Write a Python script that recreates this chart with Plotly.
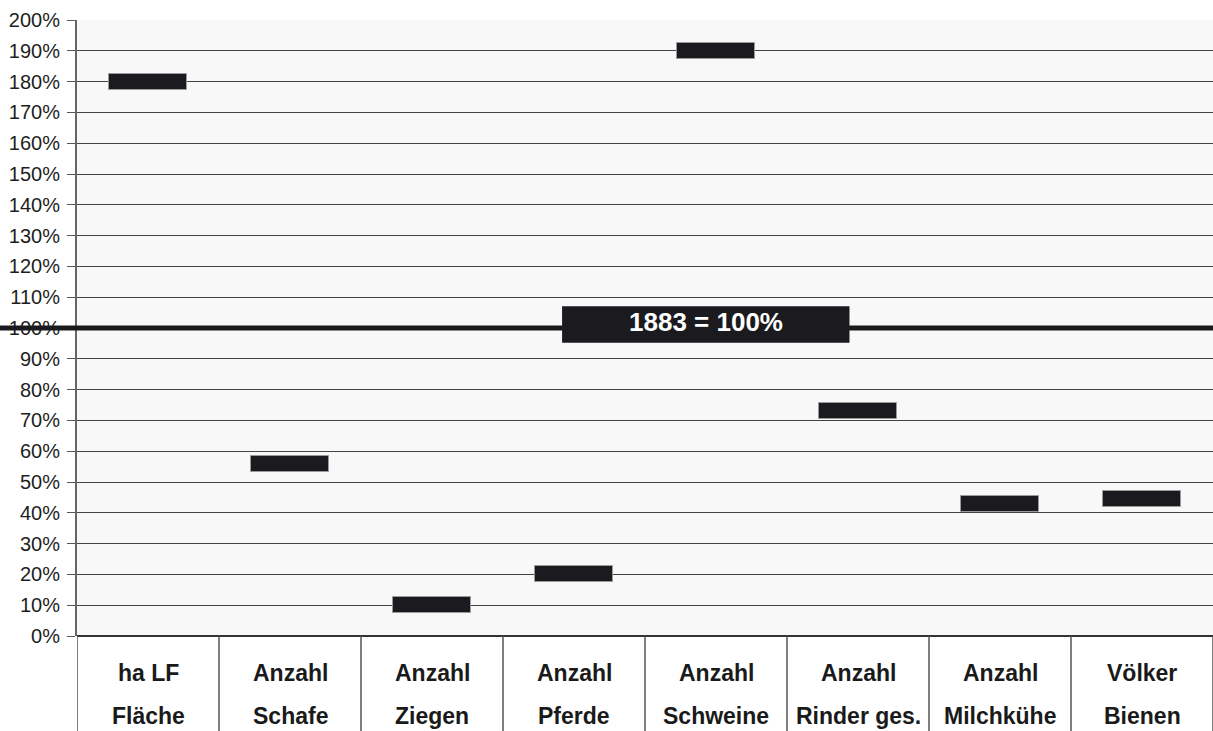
import plotly.graph_objects as go

# Index values relative to 1883 (= 100 %)
line1 = ["ha LF", "Anzahl", "Anzahl", "Anzahl", "Anzahl", "Anzahl", "Anzahl", "Völker"]
line2 = ["Fläche", "Schafe", "Ziegen", "Pferde", "Schweine", "Rinder ges.", "Milchkühe", "Bienen"]
values = [180, 56, 10, 20, 190, 73, 43, 44.5]
y_ticks = list(range(0, 201, 10))
base_year_label = "1883 = 100%"
base_value = 100

FONT = "Arial, Liberation Sans, sans-serif"
DARK = "#1b1a1f"
marker_h = 5.2  # visible thickness of each marker, in percentage points

xpos = list(range(len(values)))

fig = go.Figure()
fig.add_trace(go.Bar(
    x=xpos,
    y=[marker_h] * len(values),
    base=[v - marker_h / 2 for v in values],
    width=0.556,
    marker=dict(color=DARK, line=dict(color="#9a9a9a", width=1)),
    hoverinfo="skip",
    showlegend=False,
))

shapes = []
# thick reference line at 100 %
shapes.append(dict(type="line", xref="paper", yref="y",
                   x0=-0.07, x1=1, y0=base_value, y1=base_value,
                   line=dict(color=DARK, width=5), layer="above"))
# box carrying the base-year label
shapes.append(dict(type="rect", xref="paper", yref="y",
                   x0=0.427, x1=0.680, y0=95.2, y1=107.1,
                   fillcolor=DARK, line=dict(width=0), layer="above"))
# category separators below the axis
for k in range(len(values) + 1):
    shapes.append(dict(type="line", xref="x", yref="paper",
                       x0=k - 0.5, x1=k - 0.5, y0=0, y1=-0.2,
                       line=dict(color="#555555", width=1.5)))

annotations = [dict(text=f"<b>{base_year_label}</b>", xref="paper", yref="y",
                    x=0.5537, y=102.0, showarrow=False,
                    font=dict(family=FONT, size=26, color="white"))]
for k in xpos:
    annotations.append(dict(text=f"<b>{line1[k]}</b>", xref="x", yref="paper",
                            x=k, y=-0.0595, yanchor="middle", showarrow=False,
                            font=dict(family=FONT, size=23, color="#1a1a1a")))
    annotations.append(dict(text=f"<b>{line2[k]}</b>", xref="x", yref="paper",
                            x=k, y=-0.1295, yanchor="middle", showarrow=False,
                            font=dict(family=FONT, size=23, color="#1a1a1a")))

fig.update_layout(
    width=1213, height=731,
    margin=dict(l=77, r=0, t=20, b=95),
    paper_bgcolor="white",
    plot_bgcolor="#f8f8f8",
    shapes=shapes,
    annotations=annotations,
    bargap=0,
    xaxis=dict(range=[-0.5, len(values) - 0.5], showticklabels=False,
               showgrid=False, zeroline=False, showline=False, ticks=""),
    yaxis=dict(range=[0, 200], tickvals=y_ticks,
               ticktext=[f"{t}%" for t in y_ticks],
               showgrid=True, gridcolor="#444444", gridwidth=1,
               zeroline=True, zerolinecolor="#333333", zerolinewidth=2,
               showline=True, linecolor="#666666", linewidth=2,
               ticks="outside", ticklen=8, tickcolor="#555555",
               ticklabelstandoff=3,
               tickfont=dict(family=FONT, size=20, color="#1e1e1e")),
    font=dict(family=FONT),
)

fig.write_html("out.html")
